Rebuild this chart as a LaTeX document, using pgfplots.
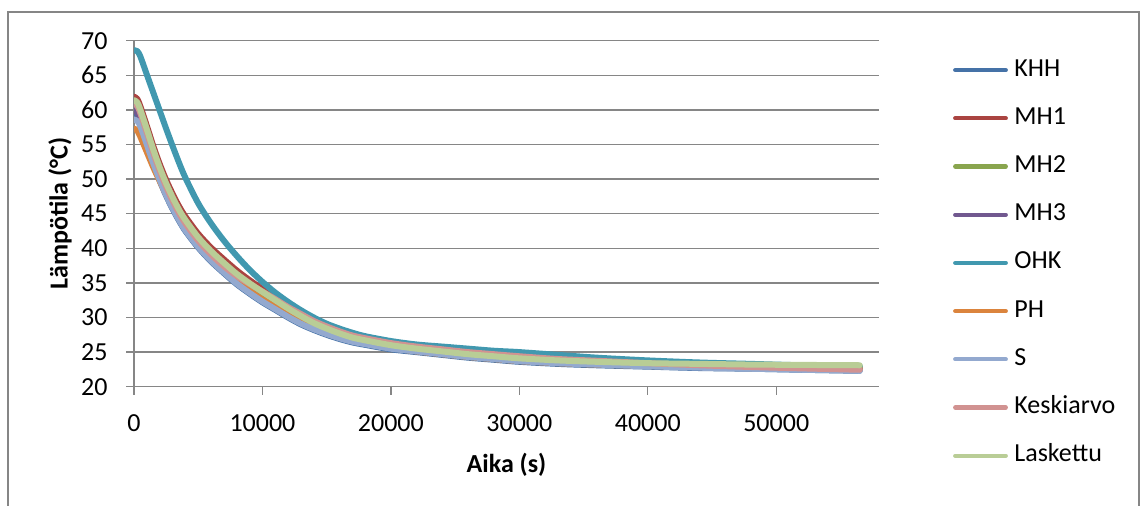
\documentclass[border=0pt]{standalone}
\usepackage{fontspec}
\setmainfont{Carlito}
\usepackage{pgfplots}
\pgfplotsset{compat=1.18}
\usepackage{pgfplotstable}

\definecolor{cKHH}{RGB}{69,114,167}
\definecolor{cMH1}{RGB}{170,68,65}
\definecolor{cMH2}{RGB}{137,165,78}
\definecolor{cMH3}{RGB}{113,88,143}
\definecolor{cOHK}{RGB}{65,152,175}
\definecolor{cPH}{RGB}{219,132,61}
\definecolor{cS}{RGB}{147,169,207}
\definecolor{cKesk}{RGB}{209,146,145}
\definecolor{cLask}{RGB}{185,205,150}
\definecolor{gridgrey}{RGB}{134,134,134}

\pgfplotstableread{
t KHH MH1 MH2 MH3 OHK PH S Kesk Lask
0 59.6 61.9 61.3 59.9 68.6 57.3 58.6 60.9 61.4
250 59.3 61.6 61.0 59.6 68.5 57.0 58.4 60.6 61.1
500 58.1 60.5 59.85 58.4 67.7 56.1 57.6 59.5 60.0
1000 55.2 57.7 57.05 55.5 65.1 53.9 55.0 56.7 57.2
1500 52.3 54.8 54.15 52.6 62.5 51.7 52.3 53.8 54.3
2000 49.8 52.2 51.55 50.1 59.9 49.7 49.9 51.2 51.7
2500 47.6 49.9 49.25 47.9 57.3 47.8 47.7 48.9 49.4
3000 45.7 47.9 47.25 46.0 54.8 46.1 45.8 46.9 47.4
3500 44.0 46.1 45.45 44.3 52.4 44.4 44.1 45.1 45.6
4000 42.5 44.6 43.95 42.8 50.2 43.0 42.6 43.6 44.1
5000 40.1 42.1 41.45 40.4 46.5 40.5 40.2 41.1 41.6
6000 38.1 40.1 39.45 38.4 43.6 38.5 38.2 39.1 39.6
7000 36.4 38.4 37.75 36.7 41.1 36.8 36.5 37.4 37.9
8000 34.8 36.8 36.15 35.1 38.9 35.2 34.9 36.0 36.3
9000 33.45 35.4 34.8 33.75 36.9 33.85 33.55 34.85 34.95
10000 32.2 34.1 33.55 32.5 35.15 32.6 32.3 33.75 33.7
11000 31.1 32.85 32.35 31.4 33.6 31.5 31.2 32.65 32.5
12000 30.0 31.6 31.15 30.3 32.25 30.4 30.1 31.5 31.3
13000 29.0 30.4 30.05 29.3 31.05 29.4 29.1 30.5 30.2
14000 28.2 29.3 29.05 28.5 30.0 28.5 28.3 29.5 29.2
15000 27.5 28.5 28.25 27.8 29.1 27.8 27.6 28.7 28.4
16000 26.9 27.75 27.55 27.2 28.4 27.2 27.0 28.0 27.7
17000 26.4 27.1 26.95 26.7 27.8 26.65 26.5 27.4 27.1
18000 26.05 26.7 26.55 26.35 27.3 26.3 26.15 27.0 26.7
20000 25.4 25.9 25.85 25.7 26.6 25.6 25.5 26.3 26.0
22000 25.0 25.4 25.3 25.3 26.1 25.1 25.1 25.8 25.5
24000 24.6 25.0 24.9 24.9 25.8 24.7 24.7 25.4 25.1
26000 24.2 24.6 24.5 24.5 25.5 24.3 24.3 25.0 24.7
28000 23.9 24.3 24.2 24.2 25.2 24.0 24.0 24.7 24.4
30000 23.6 24.0 23.9 23.9 25.0 23.7 23.7 24.4 24.1
33000 23.3 23.7 23.6 23.6 24.6 23.4 23.4 24.0 23.8
36000 23.1 23.45 23.4 23.4 24.2 23.2 23.2 23.75 23.6
40000 22.9 23.2 23.2 23.15 23.8 23.0 22.95 23.4 23.4
44000 22.7 23.0 23.1 22.95 23.5 22.85 22.75 23.1 23.3
48000 22.6 22.9 23.0 22.8 23.3 22.7 22.6 22.85 23.2
52000 22.45 22.8 22.95 22.65 23.1 22.6 22.45 22.65 23.15
56500 22.3 22.7 22.9 22.5 23.0 22.5 22.3 22.45 23.1
}\data

\begin{document}
\begin{tikzpicture}[font=\fontsize{13pt}{15.6pt}\selectfont]
\useasboundingbox (0,0) rectangle (571.5pt,252.5pt);
\draw[gridgrey, line width=0.65pt] (4pt,-10pt) -- (4pt,246.5pt) -- (569.5pt,246.5pt) -- (569.5pt,-10pt);
\begin{axis}[
  at={(67pt,59.15pt)}, anchor=south west,
  scale only axis, width=372.5pt, height=173pt,
  xmin=0, xmax=58000, ymin=20, ymax=70,
  xtick={0,10000,20000,30000,40000,50000},
  ytick={20,25,30,35,40,45,50,55,60,65,70},
  scaled x ticks=false,
  /pgf/number format/assume math mode=true,
  axis x line*=bottom, axis y line*=left,
  tick align=outside, major tick length=4pt,
  ymajorgrids,
  grid style={color=gridgrey, line width=0.65pt},
  axis line style={color=gridgrey, line width=0.65pt},
  every tick/.style={color=gridgrey, line width=0.65pt},
  xticklabel style={anchor=base, yshift=-18.15pt, inner sep=0pt, /pgf/number format/fixed, /pgf/number format/1000 sep={}},
  yticklabel style={anchor=east, xshift=-9pt, inner sep=0pt},
  xlabel={\textbf{Aika (s)}},
  ylabel={\textbf{Lämpötila (°C)}},
  xlabel style={at={(axis description cs:0.5,-0.2263)}, anchor=center},
  ylabel style={at={(axis description cs:-0.0993,0.5)}, anchor=center},
  legend cell align=left,
  legend image code/.code={\draw[#1, line width=2.1pt, line cap=round] (0pt,0pt) -- (25.3pt,0pt);},
  legend style={draw=none, fill=none, at={(axis description cs:1.0995,0.9497)}, anchor=north west,
    inner sep=0pt, outer sep=0pt, row sep=12.1pt, column sep=3.25pt,
    nodes={inner sep=0pt, text height=9pt, text depth=3pt}},
  every axis plot/.append style={line width=3pt, line cap=round, line join=round, no markers, smooth},
]
\addplot[cKHH] table[x=t, y=KHH] {\data}; \addlegendentry{KHH}
\addplot[cMH1] table[x=t, y=MH1] {\data}; \addlegendentry{MH1}
\addplot[cMH2] table[x=t, y=MH2] {\data}; \addlegendentry{MH2}
\addplot[cMH3] table[x=t, y=MH3] {\data}; \addlegendentry{MH3}
\addplot[cOHK] table[x=t, y=OHK] {\data}; \addlegendentry{OHK}
\addplot[cPH] table[x=t, y=PH] {\data}; \addlegendentry{PH}
\addplot[cS] table[x=t, y=S] {\data}; \addlegendentry{S}
\addplot[cKesk] table[x=t, y=Kesk] {\data}; \addlegendentry{Keskiarvo}
\addplot[cLask] table[x=t, y=Lask] {\data}; \addlegendentry{Laskettu}
\end{axis}
\end{tikzpicture}
\end{document}
